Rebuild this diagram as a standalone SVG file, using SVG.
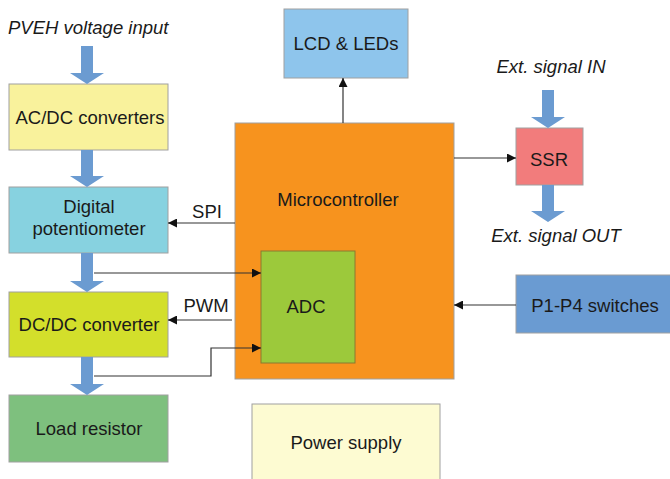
<svg xmlns="http://www.w3.org/2000/svg" width="670" height="479" viewBox="0 0 670 479">
<defs>
<style>
text{font-family:"Liberation Sans",Arial,sans-serif;font-size:18.5px;fill:#1a1a1a}
.it{font-style:italic}
.mid{text-anchor:middle}
.box{stroke:#a0a0a0;stroke-width:1}
.ln{stroke:#333;stroke-width:1.2;fill:none}
.big{fill:#6b9bd1}
</style>
<marker id="ah" viewBox="0 0 10 10" refX="10" refY="5" markerWidth="9" markerHeight="9" markerUnits="userSpaceOnUse" orient="auto">
<path d="M0,0 L10,5 L0,10 z" fill="#111"/>
</marker>
</defs>
<rect width="670" height="479" fill="#fff"/>

<g id="pveh-label"><text x="8" y="34" class="it">PVEH voltage input</text></g>

<g id="acdc">
<rect class="box" x="9" y="84" width="159" height="66" fill="#f9f29c"/>
<text x="90" y="124" class="mid">AC/DC converters</text>
</g>

<g id="digipot">
<rect class="box" x="9" y="187" width="159" height="66" fill="#87d2e0"/>
<text x="89" y="213" class="mid">Digital</text>
<text x="89" y="235" class="mid">potentiometer</text>
</g>

<g id="dcdc">
<rect class="box" x="9" y="292" width="159" height="65" fill="#d3df2b"/>
<text x="89" y="331" class="mid">DC/DC converter</text>
</g>

<g id="load">
<rect class="box" x="9" y="395" width="159" height="67" fill="#7ec07e"/>
<text x="89" y="435" class="mid">Load resistor</text>
</g>

<g id="mcu">
<rect class="box" x="235" y="123" width="219" height="256" fill="#f7931e"/>
<text x="338" y="206" class="mid">Microcontroller</text>
</g>

<g id="adc">
<rect x="261" y="251" width="94" height="112" fill="#9cc93b" stroke="#8a7a30" stroke-width="1"/>
<text x="306" y="313" class="mid">ADC</text>
</g>

<g id="lcd">
<rect class="box" x="284" y="9" width="124" height="69" fill="#8ec5ec"/>
<text x="346" y="50" class="mid">LCD &amp; LEDs</text>
</g>

<g id="ssr">
<rect class="box" x="516" y="128" width="67" height="57" fill="#f27c7c"/>
<text x="549" y="166" class="mid">SSR</text>
</g>

<g id="ext-in"><text x="551" y="73" class="it mid">Ext. signal IN</text></g>
<g id="ext-out"><text x="556" y="242" class="it mid">Ext. signal OUT</text></g>

<g id="switches">
<rect class="box" x="516" y="275" width="160" height="58" fill="#6a9bd2"/>
<text x="595" y="312" class="mid">P1-P4 switches</text>
</g>

<g id="power">
<rect class="box" x="252" y="404" width="188" height="80" fill="#fdfbd2"/>
<text x="346" y="449" class="mid">Power supply</text>
</g>

<g id="connectors">
<path class="big" d="M81,46 h12 v27 h11 l-17,11 l-17,-11 h11 z"/>
<path class="big" d="M81,150 h12 v26 h11 l-17,11 l-17,-11 h11 z"/>
<path class="big" d="M81,253 h12 v28 h11 l-17,11 l-17,-11 h11 z"/>
<path class="big" d="M81,357 h12 v27 h11 l-17,11 l-17,-11 h11 z"/>
<path class="big" d="M542,90 h12 v27 h11 l-17,11 l-17,-11 h11 z"/>
<path class="big" d="M542,185 h12 v26 h11 l-17,11 l-17,-11 h11 z"/>
<path class="ln" d="M235,223 H168" marker-end="url(#ah)"/>
<path class="ln" d="M232,320 H168" marker-end="url(#ah)"/>
<path class="ln" d="M94,273 H261" marker-end="url(#ah)"/>
<path class="ln" d="M94,376 H211 V348 H261" marker-end="url(#ah)"/>
<path class="ln" d="M343,123 V78" marker-end="url(#ah)"/>
<path class="ln" d="M454,158 H516" marker-end="url(#ah)"/>
<path class="ln" d="M516,305 H454" marker-end="url(#ah)"/>
<text x="207" y="218" class="mid">SPI</text>
<text x="206" y="312" class="mid">PWM</text>
</g>
</svg>
